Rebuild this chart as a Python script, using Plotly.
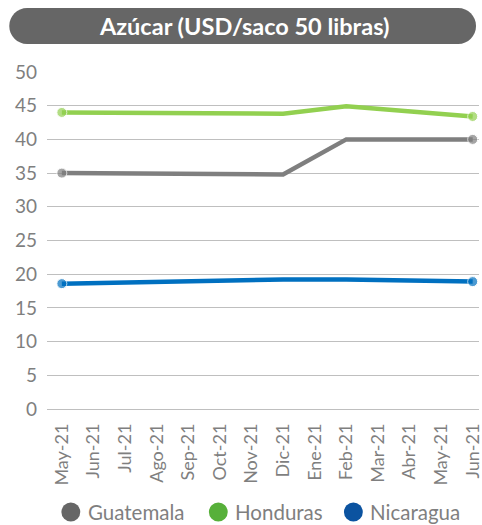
import plotly.graph_objects as go

# data
months = ["May-21", "Jun-21", "Jul-21", "Ago-21", "Sep-21", "Oct-21", "Nov-21",
          "Dic-21", "Ene-21", "Feb-21", "Mar-21", "Abr-21", "May-21", "Jun-21"]
series = ["Guatemala", "Honduras", "Nicaragua"]
guatemala = [35.0, None, None, None, None, None, None, 34.8, None, 40.0, None, None, None, 40.0]
honduras = [44.0, None, None, None, None, None, None, 43.8, None, 44.9, None, None, None, 43.4]
nicaragua = [18.6, None, None, None, None, None, None, 19.2, None, 19.2, None, None, None, 18.9]
line_colors = ["#7f7f7f", "#92d050", "#0070c0"]
legend_colors = ["#666666", "#57b03a", "#0b53a0"]
title = "Azúcar (USD/saco 50 libras)"

W, H = 482, 525
ML, MR, MT, MB = 47, 0, 72, 116
FONT = "Lato"
GREY = "#7f7f7f"


def px(x):
    return (x - ML) / (W - ML - MR)


def py(y):
    return (H - MB - y) / (H - MT - MB)


xs = list(range(len(months)))
fig = go.Figure()
for name, vals, col in zip(series, [guatemala, honduras, nicaragua], line_colors):
    idx = [i for i, v in enumerate(vals) if v is not None]
    sizes = [10 if i in (idx[0], idx[-1]) else 0 for i in xs]
    fig.add_trace(go.Scatter(x=xs, y=vals, name=name, mode="lines+markers",
                             connectgaps=True, showlegend=False, cliponaxis=False,
                             line=dict(color=col, width=4.5),
                             marker=dict(color=col, size=sizes)))

# rounded title box
x0, x1, y0, y1, r = 9, 479, 8, 44, 18
k = 0.5523 * r
path = (f"M {px(x0 + r)},{py(y0)} L {px(x1 - r)},{py(y0)} "
        f"C {px(x1 - r + k)},{py(y0)} {px(x1)},{py(y0 + r - k)} {px(x1)},{py(y0 + r)} "
        f"C {px(x1)},{py(y1 - r + k)} {px(x1 - r + k)},{py(y1)} {px(x1 - r)},{py(y1)} "
        f"L {px(x0 + r)},{py(y1)} "
        f"C {px(x0 + r - k)},{py(y1)} {px(x0)},{py(y1 - r + k)} {px(x0)},{py(y1 - r)} "
        f"C {px(x0)},{py(y0 + r - k)} {px(x0 + r - k)},{py(y0)} {px(x0 + r)},{py(y0)} Z")
shapes = [dict(type="path", xref="paper", yref="paper", path=path,
               fillcolor="#666666", line=dict(width=0))]
annotations = [dict(text=f"<b>{title}</b>", xref="paper", yref="paper",
                    x=px(245), y=py(26), xanchor="center", yanchor="middle",
                    showarrow=False, font=dict(family=FONT, size=23.5, color="white"))]

# hand-drawn legend: circle + label
leg_cx = [71, 219.5, 355.5]
leg_y = 512
for name, col, cx in zip(series, legend_colors, leg_cx):
    shapes.append(dict(type="circle", xref="paper", yref="paper",
                       x0=px(cx - 9.5), x1=px(cx + 9.5), y0=py(leg_y + 9.5), y1=py(leg_y - 9.5),
                       fillcolor=col, line=dict(width=0)))
    annotations.append(dict(text=name, xref="paper", yref="paper",
                            x=px(cx + 15), y=py(leg_y), xanchor="left", yanchor="middle",
                            showarrow=False, font=dict(family=FONT, size=20.5, color=GREY)))

fig.update_layout(
    width=W, height=H,
    margin=dict(l=ML, r=MR, t=MT, b=MB),
    paper_bgcolor="white", plot_bgcolor="white",
    font=dict(family=FONT, color=GREY),
    shapes=shapes, annotations=annotations,
    xaxis=dict(range=[-0.47, 13.2], tickvals=xs, ticktext=months, tickangle=-90,
               showgrid=False, zeroline=False, showline=False,
               ticks="", ticklabelstandoff=10, ticklabeloverflow="allow",
               tickfont=dict(family=FONT, size=18, color=GREY)),
    yaxis=dict(range=[0, 50], tickvals=list(range(0, 51, 5)),
               showgrid=True, gridcolor="#bfbfbf", gridwidth=1,
               zeroline=True, zerolinecolor="#bfbfbf", zerolinewidth=1,
               showline=False, ticks="", ticklabelstandoff=9,
               tickfont=dict(family=FONT, size=19, color=GREY)),
)

# the page body has a default 8px margin; drop it so the figure fills the window
fig.write_html("out.html", config={"displayModeBar": False},
               post_script="document.body.style.margin='0';")
